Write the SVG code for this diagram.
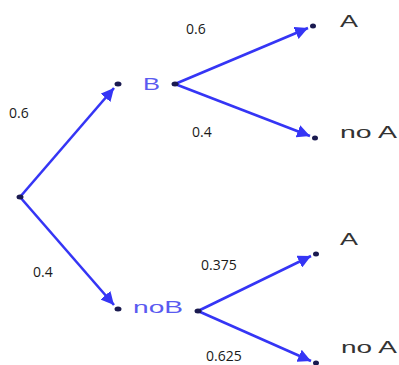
<svg xmlns="http://www.w3.org/2000/svg" width="399" height="365" viewBox="0 0 399 365">
<style>
.e{stroke:#3535f5;stroke-width:2.6;fill:none;marker-end:url(#ah)}
.d{fill:#1a1a50}
.p{font-family:"Open Sans","Liberation Sans",sans-serif;font-size:14px;fill:#1a1a1a}
.n{font-family:"Liberation Sans",Arial,sans-serif;font-size:16.5px;fill:#5a5af0}
.a{font-family:"Liberation Sans",Arial,sans-serif;font-size:16.5px;fill:#333}
</style>
<defs>
<marker id="ah" viewBox="0 0 10 10" refX="10" refY="5" markerWidth="5" markerHeight="5" orient="auto" markerUnits="strokeWidth">
<path d="M0,0 L10,5 L0,10 z" fill="#3535f5"/>
</marker>
</defs>
<g id="connectors">
<line class="e" x1="20" y1="197" x2="114" y2="88"/>
<line class="e" x1="20" y1="197" x2="114" y2="305"/>
<line class="e" x1="175" y1="84" x2="308" y2="28"/>
<line class="e" x1="175" y1="84" x2="310" y2="136"/>
<line class="e" x1="198" y1="311" x2="311" y2="256"/>
<line class="e" x1="198" y1="311" x2="311" y2="361"/>
</g>
<g id="root"><ellipse class="d" cx="20" cy="197" rx="3.5" ry="2.5"/></g>
<g id="B">
<ellipse class="d" cx="118" cy="84" rx="3.5" ry="2.5"/>
<text class="n" x="143" y="90" textLength="17" lengthAdjust="spacingAndGlyphs">B</text>
<ellipse class="d" cx="175" cy="84" rx="3.5" ry="2.5"/>
</g>
<g id="noB">
<ellipse class="d" cx="118" cy="309" rx="3.5" ry="2.5"/>
<text class="n" x="133" y="313" textLength="50" lengthAdjust="spacingAndGlyphs">noB</text>
<ellipse class="d" cx="198" cy="311" rx="3.5" ry="2.5"/>
</g>
<g id="A1">
<ellipse class="d" cx="313" cy="26" rx="3" ry="2.5"/>
<text class="a" x="340" y="27" textLength="18" lengthAdjust="spacingAndGlyphs">A</text>
</g>
<g id="noA1">
<ellipse class="d" cx="315" cy="138" rx="3" ry="2.5"/>
<text class="a" x="340" y="138" textLength="57" lengthAdjust="spacingAndGlyphs">no A</text>
</g>
<g id="A2">
<ellipse class="d" cx="316" cy="254" rx="3" ry="2.5"/>
<text class="a" x="340" y="245" textLength="18" lengthAdjust="spacingAndGlyphs">A</text>
</g>
<g id="noA2">
<ellipse class="d" cx="316" cy="363" rx="3" ry="2.5"/>
<text class="a" x="341" y="353" textLength="56" lengthAdjust="spacingAndGlyphs">no A</text>
</g>
<g id="labels">
<text class="p" x="9" y="118">0.6</text>
<text class="p" x="186" y="34">0.6</text>
<text class="p" x="192" y="137">0.4</text>
<text class="p" x="33" y="277">0.4</text>
<text class="p" x="201" y="270">0.375</text>
<text class="p" x="206" y="361">0.625</text>
</g>
</svg>
